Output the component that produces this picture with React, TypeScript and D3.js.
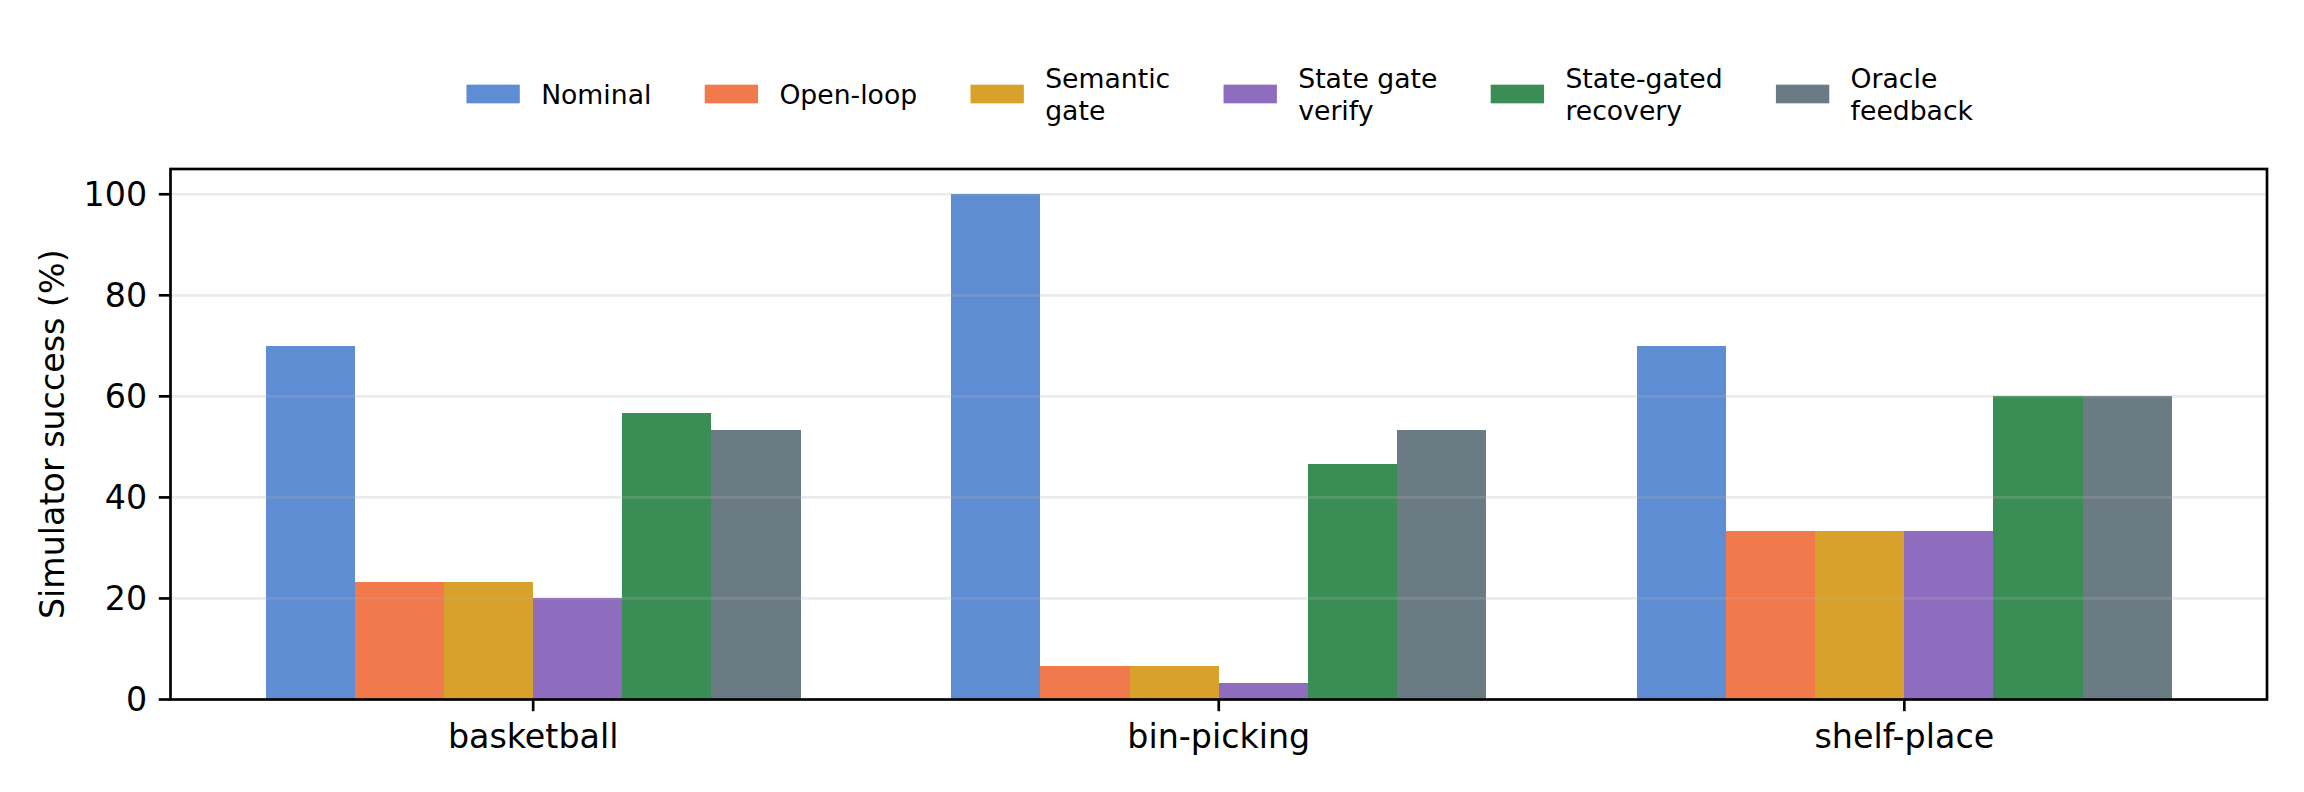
import React from 'react';
import * as d3 from 'd3';

const categories = ['basketball', 'bin-picking', 'shelf-place'];
const seriesNames = ['Nominal', 'Open-loop', 'Semantic\ngate', 'State gate\nverify', 'State-gated\nrecovery', 'Oracle\nfeedback'];
const nominal = [70, 100, 70];
const openLoop = [23.3, 6.7, 33.3];
const semanticGate = [23.3, 6.7, 33.3];
const stateGateVerify = [20, 3.3, 33.3];
const stateGatedRecovery = [56.7, 46.7, 60];
const oracleFeedback = [53.3, 53.3, 60];
const seriesColors = ['#5E8DD3', '#F07A4B', '#D8A12B', '#8E6CBE', '#3A8E55', '#6B7B83'];
const yTicks = [0, 20, 40, 60, 80, 100];
const yLabel = 'Simulator success (%)';

const seriesValues = [nominal, openLoop, semanticGate, stateGateVerify, stateGatedRecovery, oracleFeedback];

const W = 2304;
const H = 792;
const FONT = '"DejaVu Sans", sans-serif';
const TICK_FS = 33.3;
const LEG_FS = 26.67;
const LW = 2.67;

const measure = (() => {
  let ctx: CanvasRenderingContext2D | null = null;
  return (text: string, fs: number) => {
    if (!ctx) {
      const c = document.createElement('canvas');
      ctx = c.getContext('2d');
    }
    if (!ctx) return text.length * fs * 0.6;
    ctx.font = `${fs}px "DejaVu Sans"`;
    return ctx.measureText(text).width;
  };
})();

export default function App() {
  const left = 170.5, right = 2267, top = 169, bottom = 699.5;
  const barW = 0.13;
  const n = seriesNames.length;
  const minX = -((n / 2) * barW);
  const maxX = categories.length - 1 + (n / 2) * barW;
  const pad = (maxX - minX) * 0.05;
  const x = d3.scaleLinear().domain([minX - pad, maxX + pad]).range([left, right]);
  const y = d3.scaleLinear().domain([0, 105]).range([bottom, top]);

  // legend layout
  const em = LEG_FS;
  const handleW = 2 * em, handleH = 0.7 * em, textPad = 0.8 * em, colSpace = 2 * em;
  const items = seriesNames.map((s) => {
    const lines = s.split('\n');
    const tw = Math.max(...lines.map((l) => measure(l, LEG_FS)));
    return { lines, tw, w: handleW + textPad + tw };
  });
  const totalW = items.reduce((a, b) => a + b.w, 0) + colSpace * (items.length - 1);
  let cx = (left + right) / 2 - totalW / 2 + 1;
  const legY = 94;
  const legendItems = items.map((it, i) => {
    const x0 = cx;
    cx += it.w + colSpace;
    return { ...it, x0, i };
  });

  return (
    <svg width={W} height={H} style={{ position: 'absolute', left: 0, top: 0, background: '#fff' }} fontFamily={FONT}>
      <rect x={0} y={0} width={W} height={H} fill="#fff" />
      {/* bars */}
      {categories.map((c, ci) =>
        seriesValues.map((vals, si) => {
          const xc = ci + (si - (n - 1) / 2) * barW;
          const x0 = Math.round(x(xc - barW / 2));
          const x1 = Math.round(x(xc + barW / 2));
          return (
            <rect key={`${ci}-${si}`} x={x0} y={y(vals[ci])} width={x1 - x0} height={y(0) - y(vals[ci])} fill={seriesColors[si]} shapeRendering="crispEdges" />
          );
        })
      )}
      {/* grid */}
      {yTicks.map((t) => (
        <line key={`g${t}`} x1={left} x2={right} y1={y(t)} y2={y(t)} stroke="#b0b0b0" strokeOpacity={0.25} strokeWidth={LW} />
      ))}
      {/* frame */}
      <rect x={left} y={top} width={right - left} height={bottom - top} fill="none" stroke="#000" strokeWidth={LW} />
      {/* y ticks */}
      {yTicks.map((t) => (
        <g key={`y${t}`}>
          <line x1={left - 11.7} x2={left} y1={y(t)} y2={y(t)} stroke="#000" strokeWidth={LW} />
          <text x={left - 11.7 - 11.7} y={y(t)} dy="0.36em" textAnchor="end" fontSize={TICK_FS} fill="#000">{t}</text>
        </g>
      ))}
      {/* x ticks */}
      {categories.map((c, ci) => (
        <g key={`x${c}`}>
          <line x1={x(ci)} x2={x(ci)} y1={bottom} y2={bottom + 11.7} stroke="#000" strokeWidth={LW} />
          <text x={x(ci)} y={bottom + 11.7 + 11.7} dy="0.76em" textAnchor="middle" fontSize={TICK_FS} fill="#000">{c}</text>
        </g>
      ))}
      {/* y label */}
      <text transform={`translate(52, ${(top + bottom) / 2}) rotate(-90)`} dy="0.36em" textAnchor="middle" fontSize={TICK_FS} fill="#000">{yLabel}</text>
      {/* legend */}
      {legendItems.map((it) => {
        const lh = 1.2 * em;
        const nl = it.lines.length;
        return (
          <g key={`l${it.i}`}>
            <rect x={it.x0} y={legY - handleH / 2} width={handleW} height={handleH} fill={seriesColors[it.i]} />
            {it.lines.map((l, li) => (
              <text key={li} x={it.x0 + handleW + textPad} y={legY + (li - (nl - 1) / 2) * lh} dy="0.36em" fontSize={LEG_FS} fill="#000">{l}</text>
            ))}
          </g>
        );
      })}
    </svg>
  );
}
